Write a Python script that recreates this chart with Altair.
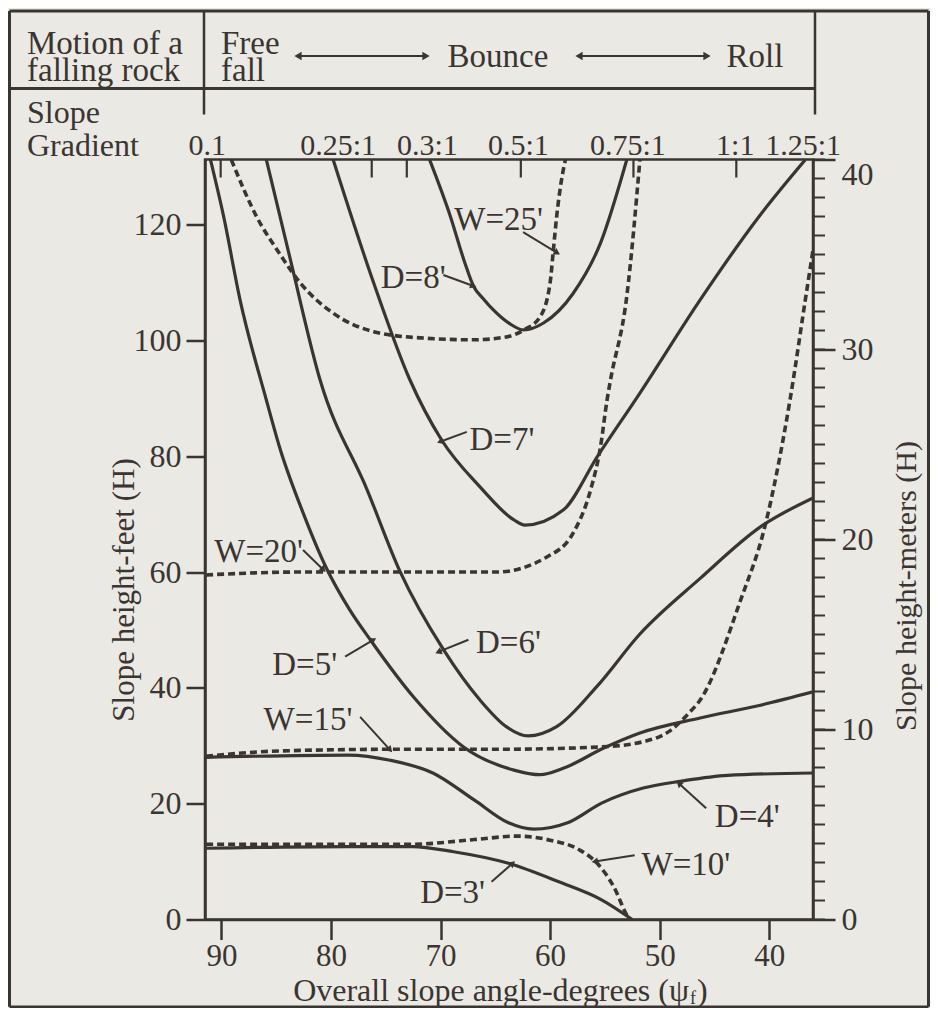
import math
import altair as alt
import pandas as pd

INK = "#3a3531"
PAPER = "#ebe9e4"
FONT = "Liberation Serif"

# ---------------- data: (slope angle in degrees, slope height in feet)
D3 = [(91.4, 12.3), (78.4, 12.6), (72.6, 12.6), (68.8, 11.7), (63.8, 9.7), (59.2, 6.5), (55.3, 3.4), (52.5, 0.0)]
D4 = [(91.4, 28.0), (78.4, 28.4), (74.6, 27.5), (70.7, 25.3), (66.9, 20.6), (63.8, 16.7), (61.5, 15.6),
      (58.4, 16.7), (55.3, 20.1), (51.5, 22.7), (48.0, 23.9), (43.8, 24.9), (36.0, 25.3)]
D5 = [(91.0, 131.2), (89.8, 121.4), (88.3, 107.0), (85.9, 89.7), (84.7, 81.6), (82.5, 70.0), (80.5, 61.0),
      (78.3, 53.5), (76.3, 48.0), (72.5, 38.5), (67.9, 29.8), (63.3, 25.8), (60.9, 25.0), (58.8, 26.1),
      (55.1, 29.6), (51.8, 32.2), (46.3, 34.8), (40.8, 37.0), (36.0, 39.3)]
D6 = [(85.9, 131.2), (83.7, 113.9), (81.0, 93.2), (76.7, 74.2), (73.7, 60.1), (69.7, 46.5), (66.4, 37.9),
      (64.0, 33.3), (62.0, 31.7), (59.4, 33.3), (55.7, 40.3), (51.8, 49.3), (46.3, 58.9), (40.8, 67.8), (36.0, 72.8)]
D7 = [(79.8, 131.2), (76.1, 109.9), (72.8, 93.2), (69.9, 82.8), (66.4, 74.7), (63.3, 69.0),
      (62.3, 68.1), (58.8, 70.7), (55.7, 79.9), (51.8, 90.9), (46.3, 107.0), (40.8, 121.7), (36.7, 131.2)]
D8 = [(71.0, 131.2), (69.1, 121.4), (67.8, 113.5), (67.0, 109.4), (66.1, 107.2), (65.2, 105.3), (63.7, 102.9),
      (62.4, 101.8), (60.6, 103.0), (57.9, 108.1), (55.4, 116.8), (53.0, 131.2)]

W10 = [(91.4, 13.0), (72.6, 13.0), (66.9, 13.8), (63.0, 14.4), (60.0, 13.7), (57.3, 12.0), (55.7, 9.7),
       (54.2, 5.7), (52.9, 0.5), (52.7, 0.0)]
W15 = [(91.4, 28.2), (84.7, 29.1), (73.7, 29.4), (64.6, 29.4), (55.3, 29.8), (51.5, 30.7), (49.2, 32.4),
       (47.3, 35.7), (46.3, 37.9), (42.6, 55.2), (40.4, 67.8), (38.1, 89.7), (36.7, 107.0), (36.0, 115.6)]
W20 = [(91.4, 59.5), (82.8, 60.0), (64.9, 60.0), (60.3, 62.6), (57.9, 66.7), (56.3, 74.2), (55.4, 81.6),
       (54.8, 89.7), (54.5, 93.0), (53.0, 107.6), (51.8, 131.2)]
W25 = [(89.1, 131.2), (86.8, 121.4), (84.7, 115.0), (82.8, 109.9), (79.8, 104.7), (76.1, 101.5), (71.6, 100.4),
       (67.0, 100.1), (64.0, 100.6), (62.4, 101.8), (60.9, 104.1), (60.0, 109.9), (59.7, 115.6), (59.4, 121.4),
       (59.0, 127.2), (58.6, 131.2)]

solid_curves = {"D=3'": D3, "D=4'": D4, "D=5'": D5, "D=6'": D6, "D=7'": D7, "D=8'": D8}
dashed_curves = {"W=10'": W10, "W=15'": W15, "W=20'": W20, "W=25'": W25}

x_ticks = [90, 80, 70, 60, 50, 40]
ft_ticks = [0, 20, 40, 60, 80, 100, 120]
m_ticks = [0, 10, 20, 30, 40]
m_minor = list(range(0, 41))
FT_PER_M = 3.28084

grad_labels = ["0.1", "0.25:1", "0.3:1", "0.5:1", "0.75:1", "1:1", "1.25:1"]
grad_label_deg = [91.3, 79.35, 71.2, 62.9, 52.9, 43.1, 36.9]
grad_tick_deg = [90.07, 76.28, 73.08, 62.67, 52.39, 43.0]

# label, label deg, label ft, arrow-from deg, ft, arrow-to deg, ft
annotations = [
    ("W=25'", 64.7, 120.8, 62.46, 118.7, 59.35, 115.1),
    ("D=8'", 72.5, 110.8, 69.74, 111.3, 67.0, 109.4),
    ("D=7'", 64.4, 82.8, 67.6, 84.2, 70.04, 82.5),
    ("W=20'", 86.6, 63.5, 82.55, 63.8, 80.7, 60.4),
    ("D=6'", 63.8, 47.7, 67.45, 48.3, 70.2, 46.2),
    ("D=5'", 82.4, 44.0, 78.71, 45.4, 76.13, 48.3),
    ("W=15'", 82.1, 34.5, 77.34, 35.0, 74.61, 29.3),
    ("D=4'", 42.0, 17.7, 45.75, 19.2, 48.24, 23.5),
    ("W=10'", 47.6, 9.4, 52.28, 11.1, 55.92, 10.0),
    ("D=3'", 68.9, 4.6, 65.34, 6.5, 63.42, 9.7),
]

# ---------------- tables
W, H = 608, 760
PAD = {"left": 197, "top": 151.5, "right": 117, "bottom": 88.5}
X_DOM = [36.0, 91.5]
Y_TOP = 40 * FT_PER_M


def curves_df(curves):
    rows = []
    for name, pts in curves.items():
        for i, (d, f) in enumerate(pts):
            rows.append({"series": name, "i": i, "deg": d, "ft": f})
    return pd.DataFrame(rows)


solid_df = curves_df(solid_curves)
dashed_df = curves_df(dashed_curves)

ann_df = pd.DataFrame(annotations, columns=["label", "deg", "ft", "a_deg", "a_ft", "b_deg", "b_ft"])
arrow_df = pd.DataFrame({"deg": ann_df["a_deg"], "ft": ann_df["a_ft"], "deg2": ann_df["b_deg"], "ft2": ann_df["b_ft"]})
kx = W / (X_DOM[1] - X_DOM[0])
ky = H / Y_TOP
angles = []
for _, r in ann_df.iterrows():
    dx = -(r["b_deg"] - r["a_deg"]) * kx
    dy = -(r["b_ft"] - r["a_ft"]) * ky
    angles.append(math.degrees(math.atan2(dx, -dy)) % 360)
head_df = pd.DataFrame({"deg": ann_df["b_deg"], "ft": ann_df["b_ft"], "angle": angles})

grad_lab_df = pd.DataFrame({"deg": grad_label_deg, "label": grad_labels})
grad_tick_df = pd.DataFrame({"deg": grad_tick_deg})

# ---------------- scales / axes
xs = alt.Scale(domain=X_DOM, reverse=True, nice=False, zero=False)
ys = alt.Scale(domain=[0, Y_TOP], nice=False, zero=False)
ms = alt.Scale(domain=[0, 40], nice=False, zero=False)

x_axis = alt.Axis(values=x_ticks, format="d", tickSize=20, labelFontSize=31, labelPadding=2,
                  title=None, labelFlush=False)
y_axis = alt.Axis(values=ft_ticks, format="d", tickSize=19, labelFontSize=32, labelPadding=5,
                  title="Slope height-feet (H)", titleFontSize=31, titleAngle=270, titleX=-72, titleY=430,
                  titleBaseline="alphabetic", titleAlign="center", labelFlush=False)
m_axis = alt.Axis(orient="right", values=m_ticks, format="d", tickSize=22, labelFontSize=32, labelPadding=6,
                  labelBaseline={"condition": {"test": "datum.value == 40", "value": "top"}, "value": "middle"},
                  title="Slope height-meters (H)", titleFontSize=30, titleAngle=270, titleX=102, titleY=426,
                  titleBaseline="alphabetic", titleAlign="center", labelFlush=False)

X = alt.X("deg:Q", scale=xs, axis=x_axis)
Y = alt.Y("ft:Q", scale=ys, axis=y_axis)

solid = alt.Chart(solid_df).mark_line(interpolate="monotone", color=INK, strokeWidth=3.2, clip=True).encode(
    x=X, y=Y, detail="series:N", order="i:Q")
dashed = alt.Chart(dashed_df).mark_line(interpolate="monotone", color=INK, strokeWidth=3.6,
                                        strokeDash=[7, 4], clip=True).encode(
    x=X, y=Y, detail="series:N", order="i:Q")
labels = alt.Chart(ann_df).mark_text(font=FONT, fontSize=33, color=INK, align="center", baseline="middle").encode(
    x=X, y=Y, text="label:N")
arrows = alt.Chart(arrow_df).mark_rule(color=INK, strokeWidth=2).encode(
    x=X, x2=alt.X2("deg2:Q"), y=Y, y2=alt.Y2("ft2:Q"))
heads = alt.Chart(head_df).mark_point(shape="triangle-up", filled=True, size=55, color=INK, opacity=1).encode(
    x=X, y=Y, angle=alt.Angle("angle:Q", scale=None))
top_ticks = alt.Chart(grad_tick_df).mark_rule(color=INK, strokeWidth=2.2).encode(
    x=X, y=alt.value(0), y2=alt.value(18))
top_labels = alt.Chart(grad_lab_df).mark_text(font=FONT, fontSize=30, color=INK, align="center",
                                              baseline="alphabetic").encode(
    x=X, y=alt.value(-5), text="label:N")

ft_layer = alt.layer(solid, dashed, arrows, heads, labels, top_ticks, top_labels)

m_rules = alt.Chart(pd.DataFrame({"m": m_minor})).mark_rule(color=INK, strokeWidth=2).encode(
    x=alt.value(W), x2=alt.value(W + 12), y=alt.Y("m:Q", scale=ms, axis=m_axis))

# ---------------- header table and x title (decoration, placed in pixels relative to the plot)
one = pd.DataFrame({"a": [0]})
R_EDGE = W + PAD["right"] - 1.5
B_EDGE = H + PAD["bottom"] - 1.2
L_EDGE = -PAD["left"] + 1.5
T_EDGE = -PAD["top"] + 3


def hline(x1, x2, y, w=2.5):
    return alt.Chart(one).mark_rule(color=INK, strokeWidth=w).encode(
        x=alt.value(x1), x2=alt.value(x2), y=alt.value(y))


def vline(x, y1, y2, w=2.5):
    return alt.Chart(one).mark_rule(color=INK, strokeWidth=w).encode(
        x=alt.value(x), y=alt.value(y1), y2=alt.value(y2))


def txt(s, x, y, align="left", size=33):
    return alt.Chart(one).mark_text(text=s, font=FONT, fontSize=size, color=INK, align=align,
                                    baseline="alphabetic").encode(x=alt.value(x), y=alt.value(y))


def head(x, y, shape):
    return alt.Chart(one).mark_point(shape=shape, filled=True, size=70, color=INK, opacity=1).encode(
        x=alt.value(x), y=alt.value(y))


TITLE_Y = H + 81
header = [
    hline(L_EDGE, R_EDGE, T_EDGE, 3),
    hline(L_EDGE, R_EDGE, B_EDGE, 2.6),
    vline(L_EDGE, T_EDGE, B_EDGE, 3),
    vline(R_EDGE, T_EDGE, B_EDGE, 3),
    hline(L_EDGE, 610, -71, 3),
    vline(-1, T_EDGE, -45),
    vline(610, T_EDGE, -45),
    txt("Motion of a", -178, -106, size=33),
    txt("falling rock", -178, -79, size=33),
    txt("Free", 16, -106, size=33),
    txt("fall", 16, -79, size=33),
    txt("Bounce", 293, -93, align="center"),
    txt("Roll", 550, -93, align="center"),
    hline(92, 222, -103.5, 2),
    head(93, -103.5, "triangle-left"),
    head(221, -103.5, "triangle-right"),
    hline(373, 503, -103.5, 2),
    head(374, -103.5, "triangle-left"),
    head(502, -103.5, "triangle-right"),
    txt("Slope", -178, -37, size=32),
    txt("Gradient", -178, -3.5, size=32),
    # x-axis title with subscript f
    txt("Overall slope angle-degrees (ψ", 484, TITLE_Y, align="right", size=32),
    txt("f", 485, TITLE_Y + 3, size=18),
    txt(")", 492, TITLE_Y, size=32),
]

chart = alt.layer(ft_layer, m_rules, *header).resolve_scale(y="independent").properties(
    width=W, height=H,
    padding=PAD,
    autosize=alt.AutoSizeParams(type="none"),
    background=PAPER,
).configure_axis(
    grid=False, domainColor=INK, domainWidth=2.5, tickColor=INK, tickWidth=2.5,
    labelColor=INK, titleColor=INK, labelFont=FONT, titleFont=FONT, titleFontWeight="normal",
).configure_view(stroke=INK, strokeWidth=2.5)

chart.save("out.html", embed_options={"renderer": "svg", "actions": False})
